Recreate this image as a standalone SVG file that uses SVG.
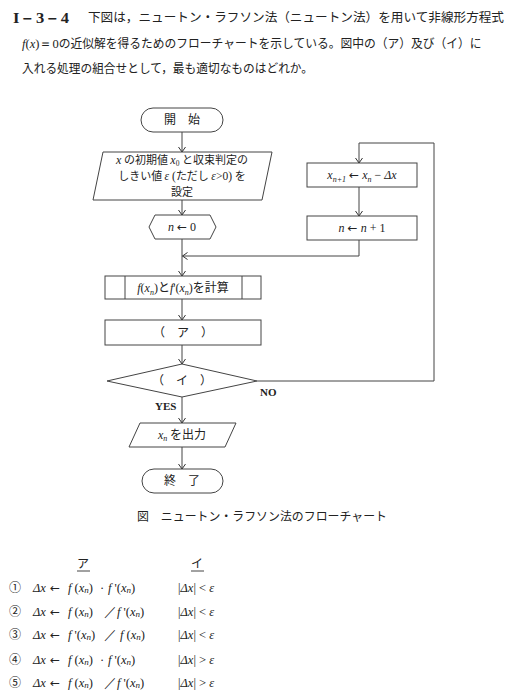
<svg xmlns="http://www.w3.org/2000/svg" width="518" height="700" viewBox="0 0 518 700">
<defs>
<marker id="ah" viewBox="-6 -5 7 10" refX="0" refY="0" markerWidth="7" markerHeight="10" markerUnits="userSpaceOnUse" orient="auto">
<path d="M-5,-3.5 L0,0 L-5,3.5" fill="none" stroke="#333" stroke-width="1"/>
</marker>
<style>
.shape{fill:#fff;stroke:#444;stroke-width:1}
.line{fill:none;stroke:#444;stroke-width:1}
.jp{font-family:"Noto Sans CJK JP","Noto Sans",sans-serif;fill:#222}
.m{font-family:"Liberation Serif",serif;font-style:italic;fill:#222}
.r{font-family:"Liberation Serif",serif;fill:#222}
.ar{font-family:"DejaVu Sans",sans-serif;font-style:normal}
.fc{font-size:12px}
.c{text-anchor:middle}
.b{font-weight:bold}
</style>
</defs>
<rect width="518" height="700" fill="#fff"/>

<g id="header">
<text x="13" y="23" class="r b" font-size="15" textLength="56" lengthAdjust="spacingAndGlyphs">I－3－4</text>
<text x="88" y="22" class="jp" font-size="12.5" textLength="416" lengthAdjust="spacingAndGlyphs">下図は，ニュートン・ラフソン法（ニュートン法）を用いて非線形方程式</text>
<text x="22" y="48" class="jp" font-size="12.5"><tspan class="m">f</tspan><tspan class="r">(</tspan><tspan class="m">x</tspan><tspan class="r">)＝0</tspan><tspan textLength="423" lengthAdjust="spacingAndGlyphs">の近似解を得るためのフローチャートを示している。図中の（ア）及び（イ）に</tspan></text>
<text x="22" y="73" class="jp" font-size="12.5" textLength="291" lengthAdjust="spacingAndGlyphs">入れる処理の組合せとして，最も適切なものはどれか。</text>
</g>

<g id="connectors">
<line class="line" x1="182" y1="132" x2="182" y2="152" marker-end="url(#ah)"/>
<line class="line" x1="182" y1="200" x2="182" y2="215" marker-end="url(#ah)"/>
<line class="line" x1="182" y1="239" x2="182" y2="276" marker-end="url(#ah)"/>
<polyline class="line" points="359,240 359,256 182.5,256" marker-end="url(#ah)"/>
<line class="line" x1="182" y1="299" x2="182" y2="320" marker-end="url(#ah)"/>
<line class="line" x1="182" y1="345" x2="182" y2="364" marker-end="url(#ah)"/>
<line class="line" x1="182" y1="397" x2="182" y2="423" marker-end="url(#ah)"/>
<line class="line" x1="182" y1="447" x2="182" y2="469" marker-end="url(#ah)"/>
<polyline class="line" points="257,381 434,381 434,143 359,143 359,163" marker-end="url(#ah)"/>
<line class="line" x1="359" y1="187" x2="359" y2="216" marker-end="url(#ah)"/>
<text x="260" y="396" class="r b" font-size="11">NO</text>
<text x="155" y="410" class="r b" font-size="11">YES</text>
</g>

<g id="start">
<rect class="shape" x="141" y="108" width="82" height="24" rx="12"/>
<text x="182" y="124" class="jp fc c">開　始</text>
</g>

<g id="init">
<polygon class="shape" points="103,152 272,152 262,200 93,200"/>
<text x="182" y="164" class="jp c" font-size="11"><tspan class="m" font-size="12">x</tspan> の初期値 <tspan class="m" font-size="12">x</tspan><tspan class="r" font-size="7.5" dy="2">0</tspan><tspan dy="-2"> と収束判定の</tspan></text>
<text x="182" y="180" class="jp c" font-size="11">しきい値 <tspan class="m" font-size="11.5">ε</tspan><tspan class="r" font-size="11.5"> (</tspan>ただし <tspan class="m" font-size="11.5">ε</tspan><tspan class="r" font-size="11.5">&gt;0) </tspan>を</text>
<text x="182" y="196" class="jp c" font-size="11">設定</text>
</g>

<g id="n0">
<polygon class="shape" points="149,227 155,215 210,215 216,227 210,239 155,239"/>
<text x="182" y="231" class="r fc c"><tspan class="m">n</tspan> <tspan class="ar">←</tspan> 0</text>
</g>

<g id="update">
<rect class="shape" x="307" y="163" width="110" height="24"/>
<text x="362" y="179" class="r fc c"><tspan class="m">x</tspan><tspan font-size="8" dy="3" class="m">n+1</tspan><tspan dy="-3"> </tspan><tspan class="ar">←</tspan> <tspan class="m">x</tspan><tspan font-size="8" dy="3" class="m">n</tspan><tspan dy="-3"> − </tspan><tspan class="m">Δx</tspan></text>
</g>

<g id="incr">
<rect class="shape" x="307" y="216" width="110" height="24"/>
<text x="362" y="232" class="r fc c"><tspan class="m">n</tspan> <tspan class="ar">←</tspan> <tspan class="m">n</tspan> + 1</text>
</g>

<g id="calc">
<rect class="shape" x="105" y="276" width="156" height="23"/>
<line class="line" x1="125" y1="276" x2="125" y2="299"/>
<line class="line" x1="242" y1="276" x2="242" y2="299"/>
<text x="183" y="292" class="jp fc c"><tspan class="m">f</tspan><tspan class="r">(</tspan><tspan class="m">x</tspan><tspan class="m" font-size="8" dy="3">n</tspan><tspan class="r" dy="-3">)</tspan>と<tspan class="m">f</tspan><tspan class="r">'(</tspan><tspan class="m">x</tspan><tspan class="m" font-size="8" dy="3">n</tspan><tspan class="r" dy="-3">)</tspan>を計算</text>
</g>

<g id="a">
<rect class="shape" x="105" y="320" width="156" height="25"/>
<text x="183" y="337" class="jp fc c">（　ア　）</text>
</g>

<g id="decision">
<polygon class="shape" points="182,364 257,381 182,397 107,381"/>
<text x="182" y="385" class="jp fc c">（　イ　）</text>
</g>

<g id="output">
<polygon class="shape" points="140,423 236,423 225,447 129,447"/>
<text x="182" y="439" class="jp fc c"><tspan class="m">x</tspan><tspan class="m" font-size="8" dy="2">n</tspan><tspan dy="-2"> を出力</tspan></text>
</g>

<g id="end">
<rect class="shape" x="142" y="469" width="81" height="24" rx="12"/>
<text x="182" y="485" class="jp fc c">終　了</text>
</g>

<g id="caption">
<text x="137" y="521" class="jp" font-size="12" textLength="250" lengthAdjust="spacingAndGlyphs">図　ニュートン・ラフソン法のフローチャート</text>
</g>

<g id="choices" font-size="12.5">
<text x="83" y="568" class="jp c" font-size="12">ア</text>
<line class="line" x1="77" y1="571" x2="90" y2="571"/>
<text x="197" y="568" class="jp c" font-size="12">イ</text>
<line class="line" x1="191" y1="571" x2="204" y2="571"/>

<text x="9" y="592" class="jp" font-size="12">①</text>
<text x="9" y="616" class="jp" font-size="12">②</text>
<text x="9" y="639" class="jp" font-size="12">③</text>
<text x="9" y="664" class="jp" font-size="12">④</text>
<text x="9" y="687" class="jp" font-size="12">⑤</text>

<text x="33" y="592" class="m">Δx</text><text x="50" y="592" class="r ar" font-size="12">←</text>
<text x="68" y="592" class="r"><tspan class="m">f</tspan> (<tspan class="m">x</tspan><tspan class="m" font-size="9" dy="1">n</tspan><tspan dy="-1">)</tspan><tspan x="100">·</tspan><tspan x="108" class="m">f</tspan> '(<tspan class="m">x</tspan><tspan class="m" font-size="9" dy="1">n</tspan><tspan dy="-1">)</tspan></text>

<text x="33" y="616" class="m">Δx</text><text x="50" y="616" class="r ar" font-size="12">←</text>
<text x="68" y="616" class="r"><tspan class="m">f</tspan> (<tspan class="m">x</tspan><tspan class="m" font-size="9" dy="1">n</tspan><tspan dy="-1">)</tspan><tspan x="104">／</tspan><tspan x="117" class="m">f</tspan> '(<tspan class="m">x</tspan><tspan class="m" font-size="9" dy="1">n</tspan><tspan dy="-1">)</tspan></text>

<text x="33" y="639" class="m">Δx</text><text x="50" y="639" class="r ar" font-size="12">←</text>
<text x="68" y="639" class="r"><tspan class="m">f</tspan> '(<tspan class="m">x</tspan><tspan class="m" font-size="9" dy="1">n</tspan><tspan dy="-1">)</tspan><tspan x="104">／</tspan><tspan x="120" class="m">f</tspan> (<tspan class="m">x</tspan><tspan class="m" font-size="9" dy="1">n</tspan><tspan dy="-1">)</tspan></text>

<text x="33" y="664" class="m">Δx</text><text x="50" y="664" class="r ar" font-size="12">←</text>
<text x="68" y="664" class="r"><tspan class="m">f</tspan> (<tspan class="m">x</tspan><tspan class="m" font-size="9" dy="1">n</tspan><tspan dy="-1">)</tspan><tspan x="100">·</tspan><tspan x="108" class="m">f</tspan> '(<tspan class="m">x</tspan><tspan class="m" font-size="9" dy="1">n</tspan><tspan dy="-1">)</tspan></text>

<text x="33" y="687" class="m">Δx</text><text x="50" y="687" class="r ar" font-size="12">←</text>
<text x="68" y="687" class="r"><tspan class="m">f</tspan> (<tspan class="m">x</tspan><tspan class="m" font-size="9" dy="1">n</tspan><tspan dy="-1">)</tspan><tspan x="104">／</tspan><tspan x="117" class="m">f</tspan> '(<tspan class="m">x</tspan><tspan class="m" font-size="9" dy="1">n</tspan><tspan dy="-1">)</tspan></text>

<text x="178" y="592" class="r">|<tspan class="m">Δx</tspan>| &lt; <tspan class="m">ε</tspan></text>
<text x="178" y="616" class="r">|<tspan class="m">Δx</tspan>| &lt; <tspan class="m">ε</tspan></text>
<text x="178" y="639" class="r">|<tspan class="m">Δx</tspan>| &lt; <tspan class="m">ε</tspan></text>
<text x="178" y="664" class="r">|<tspan class="m">Δx</tspan>| &gt; <tspan class="m">ε</tspan></text>
<text x="178" y="687" class="r">|<tspan class="m">Δx</tspan>| &gt; <tspan class="m">ε</tspan></text>
</g>
</svg>
